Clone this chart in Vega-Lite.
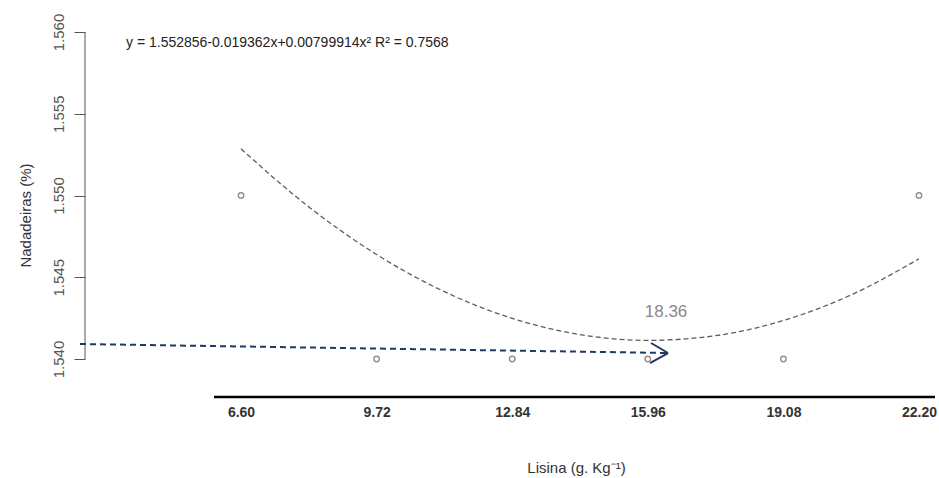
{
  "$schema": "https://vega.github.io/schema/vega-lite/v6.json",
  "width": 850,
  "height": 388,
  "autosize": {"type": "none"},
  "padding": {"left": 85, "top": 10, "right": 4, "bottom": 80},
  "background": "white",
  "config": {"view": {"stroke": null}, "font": "Liberation Sans"},
  "datasets": {
    "points": [
      {"x": 6.60, "y": 1.550},
      {"x": 9.72, "y": 1.540},
      {"x": 12.84, "y": 1.540},
      {"x": 15.96, "y": 1.540},
      {"x": 19.08, "y": 1.540},
      {"x": 22.20, "y": 1.550}
    ],
    "curve": [
      {"x": 6.60, "y": 1.552856},
      {"x": 8.16, "y": 1.549304},
      {"x": 9.72, "y": 1.546391},
      {"x": 11.28, "y": 1.544118},
      {"x": 12.84, "y": 1.542486},
      {"x": 14.40, "y": 1.541493},
      {"x": 15.96, "y": 1.541140},
      {"x": 17.52, "y": 1.541428},
      {"x": 19.08, "y": 1.542355},
      {"x": 20.64, "y": 1.543922},
      {"x": 22.20, "y": 1.546129}
    ],
    "shaft": [
      {"x": 2.8955, "y": 1.540917},
      {"x": 16.4248, "y": 1.540367}
    ],
    "head": [
      {"arm": "upper", "x": 16.034, "y": 1.540979},
      {"arm": "upper", "x": 16.4248, "y": 1.540367},
      {"arm": "lower", "x": 16.011, "y": 1.539755},
      {"arm": "lower", "x": 16.4248, "y": 1.540367}
    ],
    "yaxisline": [{"x": 3.0106, "y": 1.540, "y2": 1.560}],
    "xaxisline": [{"x": 5.979, "x2": 22.568, "y": 1.53768}],
    "labels": [
      {"x": 3.954, "y": 1.559327, "label": "y = 1.552856-0.019362x+0.00799914x²  R² = 0.7568"}
    ],
    "annot": [
      {"x": 16.379, "y": 1.542875, "label": "18.36"}
    ]
  },
  "encoding": {
    "x": {
      "field": "x",
      "type": "quantitative",
      "scale": {"domain": [3.0106, 22.568], "nice": false, "zero": false},
      "axis": {
        "orient": "bottom",
        "values": [6.6, 9.72, 12.84, 15.96, 19.08, 22.2],
        "format": ".2f",
        "domain": false,
        "ticks": false,
        "grid": false,
        "labelPadding": 7,
        "labelFontSize": 14,
        "labelFontWeight": "bold",
        "labelColor": "#333333",
        "labelOverlap": false,
        "labelFlush": false,
        "title": "Lisina (g. Kg⁻¹)",
        "titleX": 491,
        "titleY": 69,
        "titleBaseline": "middle",
        "titleAlign": "center",
        "titleFontSize": 15,
        "titleFontWeight": "normal",
        "titleColor": "#333333"
      }
    },
    "y": {
      "field": "y",
      "type": "quantitative",
      "scale": {"domain": [1.537615, 1.561346], "nice": false, "zero": false},
      "axis": {
        "orient": "left",
        "values": [1.540, 1.545, 1.550, 1.555, 1.560],
        "format": ".3f",
        "domain": false,
        "grid": false,
        "ticks": true,
        "tickSize": 11,
        "tickColor": "#555555",
        "labelAngle": -90,
        "labelAlign": "center",
        "labelBaseline": "bottom",
        "labelPadding": 8,
        "labelFontSize": 15,
        "labelColor": "#555555",
        "title": "Nadadeiras (%)",
        "titleX": -60,
        "titleY": 205,
        "titleAngle": -90,
        "titleAlign": "center",
        "titleBaseline": "middle",
        "titleFontSize": 15,
        "titleFontWeight": "normal",
        "titleColor": "#333333"
      }
    }
  },
  "layer": [
    {
      "data": {"name": "yaxisline"},
      "mark": {"type": "rule", "color": "#555555", "strokeWidth": 1},
      "encoding": {"y2": {"field": "y2"}}
    },
    {
      "data": {"name": "xaxisline"},
      "mark": {"type": "rule", "color": "#000000", "strokeWidth": 2.5},
      "encoding": {"x2": {"field": "x2"}}
    },
    {
      "data": {"name": "curve"},
      "mark": {"type": "line", "color": "#5e5e5e", "strokeWidth": 1.3, "strokeDash": [5, 3], "interpolate": "monotone"},
      "encoding": {}
    },
    {
      "data": {"name": "points"},
      "mark": {"type": "point", "shape": "circle", "filled": false, "size": 30, "stroke": "#6e5c5c", "strokeWidth": 1.4},
      "encoding": {}
    },
    {
      "data": {"name": "shaft"},
      "mark": {"type": "line", "color": "#1f3864", "strokeWidth": 2, "strokeDash": [6, 4]},
      "encoding": {}
    },
    {
      "data": {"name": "head"},
      "mark": {"type": "line", "color": "#1f3864", "strokeWidth": 2},
      "encoding": {"detail": {"field": "arm"}}
    },
    {
      "data": {"name": "labels"},
      "mark": {"type": "text", "align": "left", "baseline": "middle", "fontSize": 14, "color": "#222222"},
      "encoding": {"text": {"field": "label"}}
    },
    {
      "data": {"name": "annot"},
      "mark": {"type": "text", "align": "center", "baseline": "middle", "fontSize": 17, "color": "#888888"},
      "encoding": {"text": {"field": "label"}}
    }
  ]
}
